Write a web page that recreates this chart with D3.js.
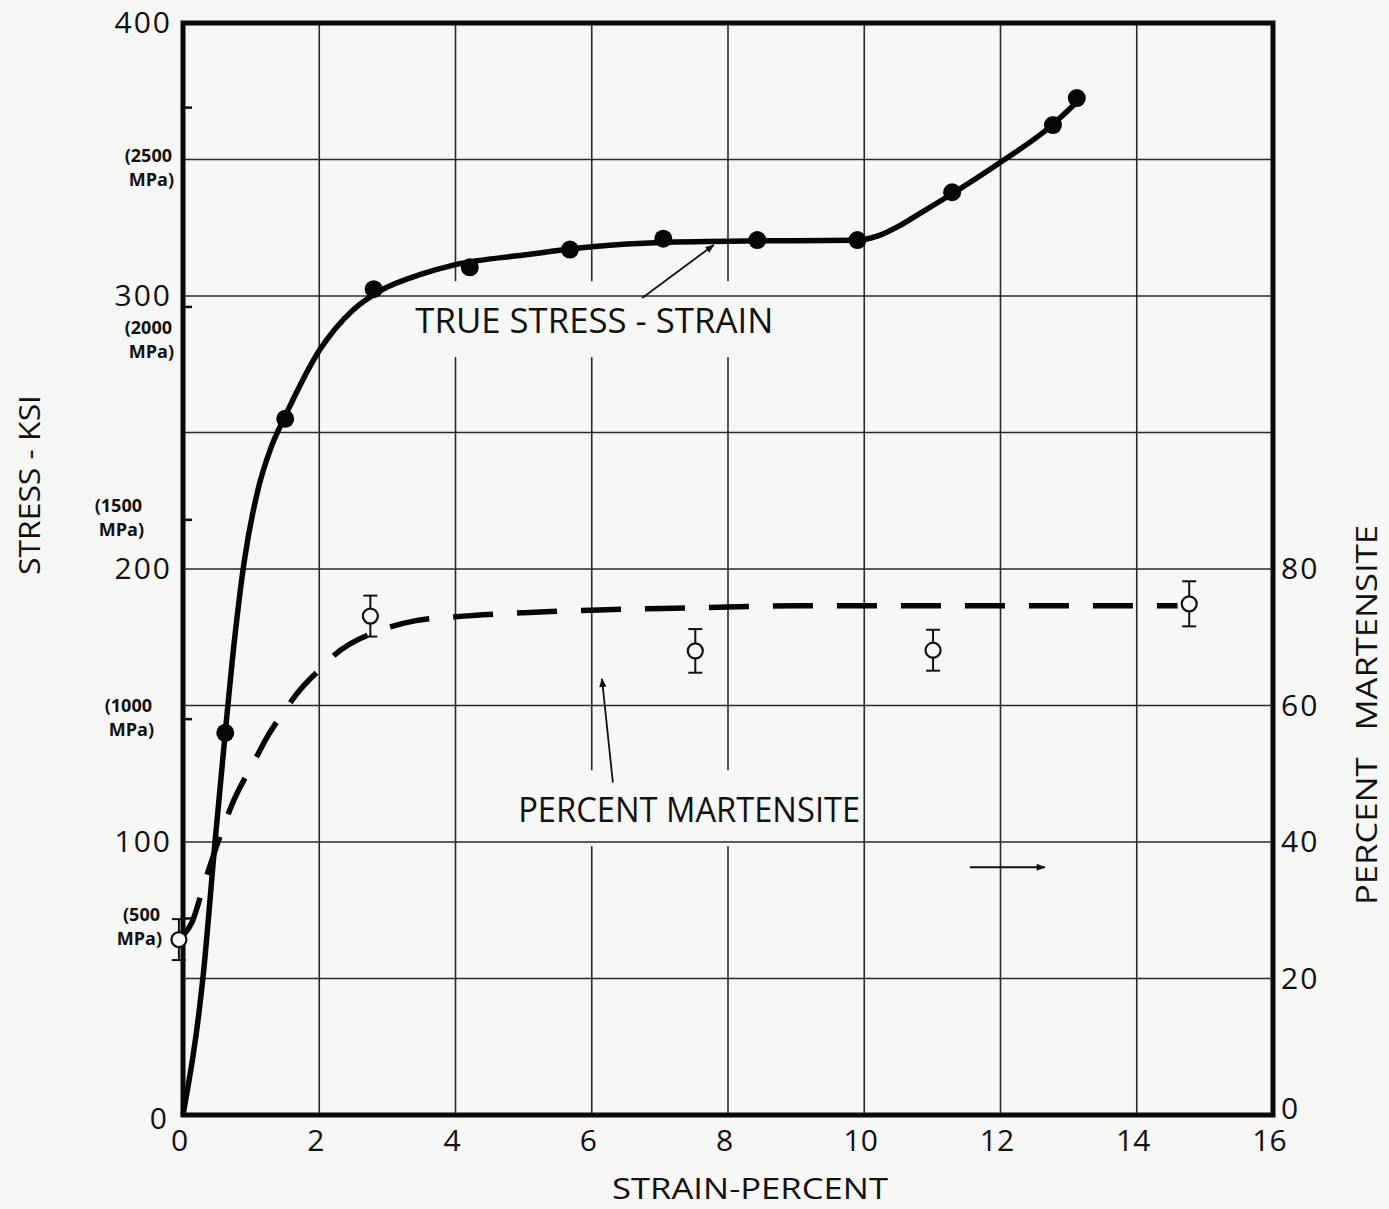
<!DOCTYPE html>
<html>
<head>
<meta charset="utf-8">
<script src="https://cdn.jsdelivr.net/npm/d3@7"></script>
<style>
    body { margin: 0; background: #f7f7f5; }
    svg text { font-family: "Open Sans", "DejaVu Sans", sans-serif; fill: #111; }
</style>
</head>
<body>
<svg id="svg" width="1389" height="1209"></svg>
<script>

// strain (%) and true stress (ksi) of the measured points
var dotStrain = [0.62, 1.5, 2.8, 4.21, 5.68, 7.05, 8.43, 9.9, 11.29, 12.77, 13.12]
var dotKsi = [140, 255, 302.5, 310.5, 317, 321, 320.5, 320.5, 338, 362.6, 372.5]

// faired true stress-strain curve
var curveStrain = [0, 0.3, 0.47, 0.62, 0.76, 0.9, 1.1, 1.3, 1.5, 2.0, 2.5, 2.9, 3.5, 4.0, 5.0, 6.0, 7.0, 8.5, 9.9, 10.2, 10.5, 10.8, 11.26, 12.0, 12.73, 13.1]
var curveKsi = [0, 52, 100, 140, 175, 203, 229, 245, 256, 280, 295, 302, 308, 311.5, 315, 318, 319.6, 320.2, 320.4, 322, 325.5, 330, 337, 349, 362, 370.5]

// percent martensite, open circles with error bars
var martStrain = [-0.06, 2.75, 7.52, 11.01, 14.77]
var martPct = [25.7, 73.1, 68, 68.1, 74.9]
var martErr = [3, 3, 3.2, 3, 3.3]

// faired (dashed) martensite curve
var martCurveStrain = [0.02, 0.13, 0.32, 0.75, 1.06, 1.23, 1.54, 1.67, 2.04, 2.2, 2.86, 3.07, 3.4, 4.0, 5.0, 6.1, 7.5, 9.0, 12.0, 14.6]
var martCurvePct = [26.5, 28.2, 34.2, 46.2, 52.1, 55.3, 59.9, 61.7, 65.6, 67.2, 70.9, 71.6, 72.4, 73, 73.6, 74, 74.3, 74.6, 74.6, 74.6]

// axes
var strainTicks = [0, 2, 4, 6, 8, 10, 12, 14, 16]
var ksiTicks = [0, 100, 200, 300, 400]
var ksiGrid = [50, 100, 150, 200, 250, 300, 350]
var pctTicks = [0, 20, 40, 60, 80]
var mpaNames = ['2500', '2000', '1500', '1000', '500']
var mpaTickKsi = [369, 296, 218, 145, 72]
var mpaLabelKsi = [346.9, 284, 218.5, 145.4, 69]

var margin = { left: 183, top: 23 },
    width = 1090,
    height = 1092

var svg = d3.select('#svg')
var g = svg.append('g').attr('transform', 'translate(' + margin.left + ',' + margin.top + ')')

var x = d3.scaleLinear().domain([0, 16]).range([0, width])
var y = d3.scaleLinear().domain([0, 400]).range([height, 0])
// 80 percent martensite sits on 200 ksi
var yPct = d3.scaleLinear().domain([0, 160]).range([height, 0])

var bg = '#f7f7f5'

// vertical grid
g.selectAll('.vgrid')
    .data(strainTicks.slice(1, -1))
    .enter().append('line')
    .attr('x1', function(d) { return x(d) })
    .attr('x2', function(d) { return x(d) })
    .attr('y1', 0).attr('y2', height)
    .style('stroke', '#2a2a2a').style('stroke-width', 1.6)

// breaks in the grid around the lettering
var labels = [
    { text: 'TRUE STRESS - STRAIN', sx: 3.41, ky: 286.4, len: 358 },
    { text: 'PERCENT MARTENSITE', sx: 4.92, ky: y.invert(yPct(42.9)), len: 342 }
]

labels.forEach(function(l) {
    g.append('rect')
        .attr('x', x(l.sx) - 12)
        .attr('y', y(l.ky) - 52)
        .attr('width', l.len + 14)
        .attr('height', 76)
        .style('fill', bg)
})

// horizontal grid
g.selectAll('.hgrid')
    .data(ksiGrid)
    .enter().append('line')
    .attr('x1', 0).attr('x2', width)
    .attr('y1', function(d) { return y(d) })
    .attr('y2', function(d) { return y(d) })
    .style('stroke', '#2a2a2a').style('stroke-width', 1.6)

// frame
g.append('rect')
    .attr('width', width).attr('height', height)
    .style('fill', 'none').style('stroke', '#0a0a0a').style('stroke-width', 5)

// MPa ticks inside the left axis
g.selectAll('.mpatick')
    .data(mpaTickKsi)
    .enter().append('line')
    .attr('x1', 0).attr('x2', 9)
    .attr('y1', function(d) { return y(d) })
    .attr('y2', function(d) { return y(d) })
    .style('stroke', '#111').style('stroke-width', 2.5)

// axes
var left = g.append('g')
    .call(d3.axisLeft(y).tickValues(ksiTicks).tickSize(0).tickPadding(11))
left.select('.domain').remove()
left.selectAll('text').style('font-size', '30px').style('letter-spacing', '2px')
left.selectAll('text').filter(function(d) { return d == 0 }).attr('dx', -3).attr('dy', '0.45em')

var bottom = g.append('g')
    .attr('transform', 'translate(0,' + height + ')')
    .call(d3.axisBottom(x).tickValues(strainTicks).tickSize(0).tickPadding(15))
bottom.select('.domain').remove()
bottom.selectAll('text').style('font-size', '30px').attr('dx', -4)

var right = g.append('g')
    .attr('transform', 'translate(' + width + ',0)')
    .call(d3.axisRight(yPct).tickValues(pctTicks).tickSize(0).tickPadding(8))
right.select('.domain').remove()
right.selectAll('text').style('font-size', '30px').style('letter-spacing', '2px')
right.selectAll('text').filter(function(d) { return d == 0 }).attr('dy', '0.1em')

// MPa labels, two lines each
var labelRight = [172, 172, 142, 152, 160]
mpaNames.forEach(function(name, i) {
    var cy = y(mpaLabelKsi[i]) + margin.top
    var t = svg.append('text')
        .attr('text-anchor', 'end')
        .style('font-size', '18px').style('font-weight', 'bold')
    t.append('tspan').attr('x', labelRight[i]).attr('y', cy - 6).text('(' + name)
    t.append('tspan').attr('x', labelRight[i] + 2).attr('y', cy + 18).text('MPa)')
})

// axis titles
svg.append('text')
    .attr('transform', 'translate(40,485) rotate(-90)')
    .attr('text-anchor', 'middle')
    .attr('textLength', 180).attr('lengthAdjust', 'spacingAndGlyphs')
    .style('font-size', '30px')
    .text('STRESS - KSI')

svg.append('text')
    .attr('transform', 'translate(1377,715) rotate(-90)')
    .attr('text-anchor', 'middle')
    .attr('textLength', 380).attr('lengthAdjust', 'spacingAndGlyphs')
    .style('font-size', '30px')
    .style('white-space', 'pre')
    .text('PERCENT   MARTENSITE')

svg.append('text')
    .attr('x', 750).attr('y', 1199)
    .attr('text-anchor', 'middle')
    .attr('textLength', 276).attr('lengthAdjust', 'spacingAndGlyphs')
    .style('font-size', '29px')
    .text('STRAIN-PERCENT')

// curves
var stressLine = d3.line()
    .x(function(d) { return x(d[0]) })
    .y(function(d) { return y(d[1]) })
    .curve(d3.curveMonotoneX)

g.append('path')
    .datum(d3.zip(curveStrain, curveKsi))
    .attr('d', stressLine)
    .style('fill', 'none').style('stroke', '#050505').style('stroke-width', 5.5)

var martLine = d3.line()
    .x(function(d) { return x(d[0]) })
    .y(function(d) { return yPct(d[1]) })
    .curve(d3.curveMonotoneX)

g.append('path')
    .datum(d3.zip(martCurveStrain, martCurvePct))
    .attr('d', martLine)
    .style('fill', 'none').style('stroke', '#050505').style('stroke-width', 5.5)
    .style('stroke-dasharray', '40 24')

// filled dots
g.selectAll('.dot')
    .data(d3.zip(dotStrain, dotKsi))
    .enter().append('circle')
    .attr('cx', function(d) { return x(d[0]) })
    .attr('cy', function(d) { return y(d[1]) })
    .attr('r', 9)
    .style('fill', '#050505')

// open circles with error bars
var mart = g.selectAll('.mart')
    .data(d3.zip(martStrain, martPct, martErr))
    .enter().append('g')
    .attr('transform', function(d) { return 'translate(' + x(d[0]) + ',0)' })

mart.append('line')
    .attr('y1', function(d) { return yPct(d[1] + d[2]) })
    .attr('y2', function(d) { return yPct(d[1] - d[2]) })
    .style('stroke', '#111').style('stroke-width', 2)

mart.selectAll('.cap')
    .data(function(d) { return [d[1] + d[2], d[1] - d[2]] })
    .enter().append('line')
    .attr('x1', -7).attr('x2', 7)
    .attr('y1', function(d) { return yPct(d) })
    .attr('y2', function(d) { return yPct(d) })
    .style('stroke', '#111').style('stroke-width', 2)

mart.append('circle')
    .attr('cy', function(d) { return yPct(d[1]) })
    .attr('r', 7.5)
    .style('fill', bg).style('stroke', '#111').style('stroke-width', 2.2)

// lettering on the chart
labels.forEach(function(l) {
    g.append('text')
        .attr('x', x(l.sx)).attr('y', y(l.ky))
        .attr('textLength', l.len).attr('lengthAdjust', 'spacingAndGlyphs')
        .style('font-size', '34px')
        .text(l.text)
})

// arrows
svg.append('defs').append('marker')
    .attr('id', 'head')
    .attr('viewBox', '0 0 10 10')
    .attr('refX', 9).attr('refY', 5)
    .attr('markerWidth', 18).attr('markerHeight', 9)
    .attr('markerUnits', 'userSpaceOnUse')
    .attr('orient', 'auto')
    .append('path').attr('d', 'M0,1 L10,5 L0,9 Z').style('fill', '#111')

var arrows = [
    [6.74, 299.3, 7.79, 318.7],
    [6.31, y.invert(yPct(48.7)), 6.15, y.invert(yPct(63.9))],
    [11.55, y.invert(yPct(36.3)), 12.65, y.invert(yPct(36.3))]
]

g.selectAll('.arrow')
    .data(arrows)
    .enter().append('line')
    .attr('x1', function(d) { return x(d[0]) })
    .attr('y1', function(d) { return y(d[1]) })
    .attr('x2', function(d) { return x(d[2]) })
    .attr('y2', function(d) { return y(d[3]) })
    .style('stroke', '#111').style('stroke-width', 1.8)
    .attr('marker-end', 'url(#head)')

</script>
</body>
</html>
